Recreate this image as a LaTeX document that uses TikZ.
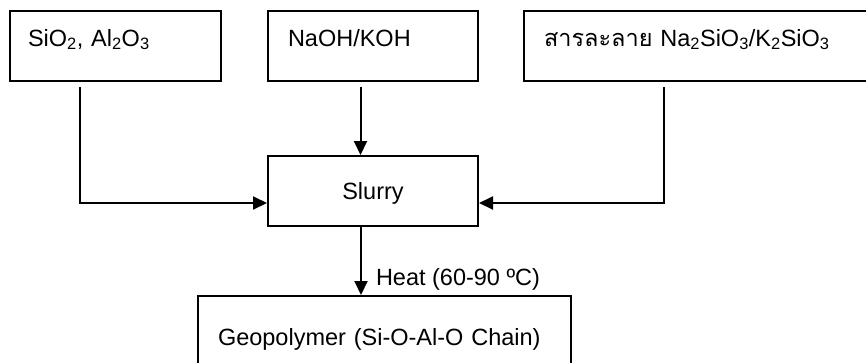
\documentclass[tikz,border=0pt]{standalone}
\usepackage{fontspec}
\setmainfont{Liberation Sans}
\newfontfamily\thaifont[Script=Thai]{Loma}
\usetikzlibrary{arrows.meta}
\begin{document}
\begin{tikzpicture}[x=1pt,y=-1pt,
  every node/.style={font=\fontsize{23.5pt}{28pt}\selectfont},
  boxtop/.style={draw, line width=2pt, anchor=north west, minimum height=70pt, inner ysep=0pt, text height=9pt, text depth=9pt, align=left},
  boxmid/.style={draw, line width=2pt, anchor=north west, inner ysep=0pt, text height=17pt, text depth=0pt},
  conn/.style={line width=2pt, -{Triangle[length=14pt,width=13pt]}},
  gapstart/.style={shorten <=5pt}]
\useasboundingbox (0,0) rectangle (866,362);
\clip (0,0) rectangle (866,362);
\node[boxtop, inner xsep=18pt, text width=175pt] (b1) at (9,10) {SiO\textsubscript{2}, Al\textsubscript{2}O\textsubscript{3}};
\node[boxtop, inner xsep=20pt, text width=170pt] (b2) at (267,10) {NaOH/KOH};
\node[boxtop, inner xsep=20pt, text width=337pt] (b3) at (523,10) {{\thaifont สารละลาย} Na\textsubscript{2}SiO\textsubscript{3}/K\textsubscript{2}SiO\textsubscript{3}};
\node[boxmid, minimum width=210pt, minimum height=70pt] (slurry) at (267,155) {Slurry};
\node[boxmid, minimum height=82pt, inner xsep=20pt, text width=333pt, align=left] (geo) at (197,295) {Geopolymer (Si-O-Al-O Chain)};
\draw[conn, gapstart] ([xshift=-35.5pt]b1.south) |- ([yshift=-12pt]slurry.west);
\draw[conn, gapstart] ([xshift=-12.5pt]b2.south) -- ([xshift=-12.5pt]slurry.north);
\draw[conn, gapstart] ([xshift=141pt]b3.south west) |- ([yshift=-12pt]slurry.east);
\draw[conn] ([xshift=-12pt]slurry.south) -- node[pos=0.857, anchor=base west, xshift=14pt, inner sep=0pt] (heat) {Heat (60-90 ºC)} ([xshift=-12pt]slurry.south |- geo.north);
\end{tikzpicture}
\end{document}
